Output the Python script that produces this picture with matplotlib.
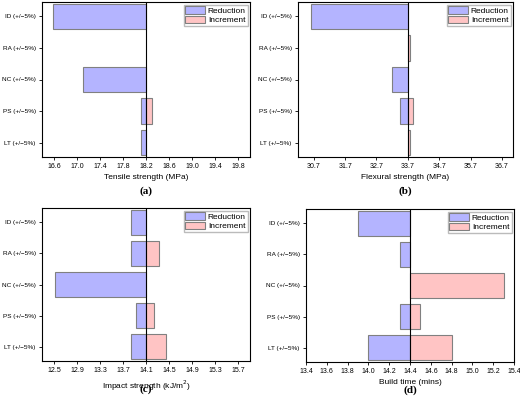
import numpy as np
import matplotlib.pyplot as plt

cats = ['ID (+/\u22125%)', 'RA (+/\u22125%)', 'NC (+/\u22125%)', 'PS (+/\u22125%)', 'LT (+/\u22125%)']

# panel a - tensile strength
ts_base = 18.2
ts_red = [16.58, np.nan, 17.1, 18.11, 18.11]
ts_inc = [np.nan, np.nan, np.nan, 18.3, np.nan]
ts_ticks = [16.6, 17.0, 17.4, 17.8, 18.2, 18.6, 19.0, 19.4, 19.8]

# panel b - flexural strength
fs_base = 33.7
fs_red = [30.6, np.nan, 33.2, 33.45, np.nan]
fs_inc = [np.nan, 33.77, np.nan, 33.85, 33.77]
fs_ticks = [30.7, 31.7, 32.7, 33.7, 34.7, 35.7, 36.7]

# panel c - impact strength
im_base = 14.1
im_red = [13.84, 13.84, 12.52, 13.93, 13.84]
im_inc = [np.nan, 14.32, np.nan, 14.24, 14.44]
im_ticks = [12.5, 12.9, 13.3, 13.7, 14.1, 14.5, 14.9, 15.3, 15.7]

# panel d - build time
bt_base = 14.4
bt_red = [13.9, 14.3, np.nan, 14.3, 14.0]
bt_inc = [np.nan, np.nan, 15.3, 14.5, 14.8]
bt_ticks = [13.4, 13.6, 13.8, 14.0, 14.2, 14.4, 14.6, 14.8, 15.0, 15.2, 15.4]

blue = '#b4b4ff'
red = '#ffc4c4'
edge = '#808080'

fig = plt.figure(figsize=(5.2, 4.03), dpi=100)
plt.rcParams['font.family'] = 'Liberation Sans'

def panel(rect, base, red_v, inc_v, ticks, xlim, xlabel, tag, tag_y):
    ax = fig.add_axes(rect)
    y = np.arange(len(cats))
    rv = np.array(red_v, dtype=float)
    iv = np.array(inc_v, dtype=float)
    ax.barh(y, rv - base, left=base, height=0.8, color=blue, edgecolor=edge, linewidth=0.8, label='Reduction')
    ax.barh(y, iv - base, left=base, height=0.8, color=red, edgecolor=edge, linewidth=0.8, label='Increment')
    ax.axvline(base, color='black', linewidth=0.8)
    ax.set_ylim(len(cats) - 0.55, -0.45)
    ax.set_xlim(*xlim)
    ax.set_yticks(y)
    ax.set_yticklabels(cats, fontsize=4.6)
    ax.set_xticks(ticks)
    ax.set_xticklabels([f'{t:.1f}' for t in ticks], fontsize=5)
    ax.tick_params(length=2.5, width=0.6, pad=2)
    for s in ax.spines.values():
        s.set_linewidth(0.8)
    ax.set_xlabel(xlabel, fontsize=6, labelpad=3)
    ax.legend(loc='upper right', fontsize=6, frameon=True, fancybox=False, edgecolor='#aaaaaa',
              borderpad=0.2, handlelength=2.3, handleheight=1.0, labelspacing=0.1, borderaxespad=0.3,
              handletextpad=0.4)
    ax.text(0.5, tag_y, tag, transform=ax.transAxes, ha='center', va='top', fontsize=8,
            fontweight='bold', family='Liberation Serif')
    return ax

panel([42/520, 1 - 157/403, 208/520, 155/403], ts_base, ts_red, ts_inc, ts_ticks, (16.39, 20.0),
      'Tensile strength (MPa)', '(a)', -0.19)
panel([298/520, 1 - 157/403, 215/520, 155/403], fs_base, fs_red, fs_inc, fs_ticks, (30.2, 37.05),
      'Flexural strength (MPa)', '(b)', -0.19)
panel([42/520, 1 - 361/403, 208/520, 153/403], im_base, im_red, im_inc, im_ticks, (12.29, 15.9),
      'Impact strength (kJ/m$^2$)', '(c)', -0.15)
panel([306/520, 1 - 362/403, 208/520, 153/403], bt_base, bt_red, bt_inc, bt_ticks, (13.4, 15.4),
      'Build time (mins)', '(d)', -0.15)

fig.savefig('out.png', dpi=100)
